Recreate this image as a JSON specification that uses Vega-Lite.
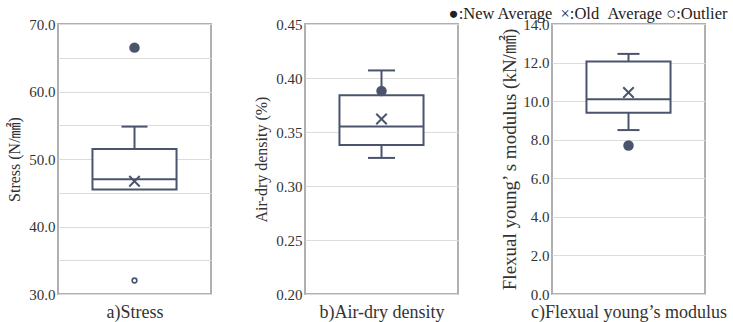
{
  "$schema": "https://vega.github.io/schema/vega-lite/v6.json",
  "padding": {"left": 5, "top": 5, "right": 5, "bottom": 0},
  "bounds": "flush",
  "spacing": 94,
  "background": "white",
  "title": {"text": "●:New Average \u00a0×:Old \u00a0Average ○:Outlier", "anchor": "end", "font": "'Liberation Serif', 'Noto Sans CJK JP', serif", "fontSize": 16.5, "fontWeight": "normal", "color": "#222222", "offset": -6, "dx": 0},
  "config": {
    "font": "'Liberation Serif', 'Noto Sans CJK JP', serif",
    "view": {"stroke": "#b0b0b0", "strokeWidth": 2},
    "axis": {"labelFont": "'Liberation Serif', 'Noto Sans CJK JP', serif", "titleFont": "'Liberation Serif', 'Noto Sans CJK JP', serif", "labelColor": "#333333", "titleColor": "#333333", "titleFontWeight": "normal", "domain": false, "ticks": false, "gridColor": "#dcdcdc", "gridWidth": 1.2, "labelOverlap": false, "tickCount": 20},
    "axisY": {"labelFontSize": 15, "titleFontSize": 16, "labelPadding": 3, "titlePadding": 6},
    "axisX": {"labels": false, "grid": false, "titleFontSize": 18, "titlePadding": 9}
  },
  "datasets": {
    "stress": [{"cat": "a", "q1": 45.5, "median": 47.0, "q3": 51.5, "lo": 45.5, "hi": 54.8, "mean": 46.7, "newavg": 66.5, "outlier": 32.0}],
    "density": [{"cat": "b", "q1": 0.338, "median": 0.355, "q3": 0.384, "lo": 0.326, "hi": 0.407, "mean": 0.362, "newavg": 0.388}],
    "modulus": [{"cat": "c", "q1": 9.4, "median": 10.1, "q3": 12.05, "lo": 8.5, "hi": 12.45, "mean": 10.45, "newavg": 7.7}]
  },
  "hconcat": [
    {
      "width": 153, "height": 270,
      "data": {"name": "stress"},
      "encoding": {"x": {"field": "cat", "type": "nominal", "scale": {"paddingInner": 0, "paddingOuter": 0.41}, "axis": {"title": "a)Stress"}}},
      "layer": [
        {"mark": {"type": "rule", "color": "#4a556d", "strokeWidth": 2}, "encoding": {"y": {"field": "lo", "type": "quantitative", "scale": {"domain": [30, 70], "nice": false, "zero": false}, "axis": {"title": "Stress (N/㎟)", "values": [30, 35, 40, 45, 50, 55, 60, 65, 70], "labelExpr": "datum.value % 10 == 0 ? format(datum.value, '.1f') : ''"}}, "y2": {"field": "hi"}}},
        {"mark": {"type": "tick", "color": "#4a556d", "thickness": 2, "size": 26, "opacity": 1}, "encoding": {"y": {"field": "hi", "type": "quantitative"}}},
        {"mark": {"type": "bar", "fill": "white", "stroke": "#4a556d", "strokeWidth": 2, "opacity": 1}, "encoding": {"y": {"field": "q1", "type": "quantitative"}, "y2": {"field": "q3"}}},
        {"mark": {"type": "tick", "color": "#4a556d", "thickness": 2, "size": 84, "opacity": 1}, "encoding": {"y": {"field": "median", "type": "quantitative"}}},
        {"mark": {"type": "point", "shape": "M-1,-1L1,1M-1,1L1,-1", "size": 110, "strokeWidth": 2, "filled": false, "color": "#4a556d", "opacity": 1}, "encoding": {"y": {"field": "mean", "type": "quantitative"}}},
        {"mark": {"type": "circle", "size": 110, "color": "#4a556d", "opacity": 1}, "encoding": {"y": {"field": "newavg", "type": "quantitative"}}},
        {"mark": {"type": "point", "size": 22, "strokeWidth": 1.6, "filled": false, "color": "#4a556d", "opacity": 1}, "encoding": {"y": {"field": "outlier", "type": "quantitative"}}}
      ]
    },
    {
      "width": 153, "height": 270,
      "data": {"name": "density"},
      "encoding": {"x": {"field": "cat", "type": "nominal", "scale": {"paddingInner": 0, "paddingOuter": 0.41}, "axis": {"title": "b)Air-dry density"}}},
      "layer": [
        {"mark": {"type": "rule", "color": "#4a556d", "strokeWidth": 2}, "encoding": {"y": {"field": "lo", "type": "quantitative", "scale": {"domain": [0.2, 0.45], "nice": false, "zero": false}, "axis": {"title": "Air-dry density (%)", "values": [0.2, 0.25, 0.3, 0.35, 0.4, 0.45], "format": ".2f"}}, "y2": {"field": "hi"}}},
        {"mark": {"type": "tick", "color": "#4a556d", "thickness": 2, "size": 27, "opacity": 1}, "encoding": {"y": {"field": "hi", "type": "quantitative"}}},
        {"mark": {"type": "tick", "color": "#4a556d", "thickness": 2, "size": 27, "opacity": 1}, "encoding": {"y": {"field": "lo", "type": "quantitative"}}},
        {"mark": {"type": "bar", "fill": "white", "stroke": "#4a556d", "strokeWidth": 2, "opacity": 1}, "encoding": {"y": {"field": "q1", "type": "quantitative"}, "y2": {"field": "q3"}}},
        {"mark": {"type": "tick", "color": "#4a556d", "thickness": 2, "size": 84, "opacity": 1}, "encoding": {"y": {"field": "median", "type": "quantitative"}}},
        {"mark": {"type": "point", "shape": "M-1,-1L1,1M-1,1L1,-1", "size": 110, "strokeWidth": 2, "filled": false, "color": "#4a556d", "opacity": 1}, "encoding": {"y": {"field": "mean", "type": "quantitative"}}},
        {"mark": {"type": "circle", "size": 110, "color": "#4a556d", "opacity": 1}, "encoding": {"y": {"field": "newavg", "type": "quantitative"}}}
      ]
    },
    {
      "width": 153, "height": 270,
      "data": {"name": "modulus"},
      "encoding": {"x": {"field": "cat", "type": "nominal", "scale": {"paddingInner": 0, "paddingOuter": 0.41}, "axis": {"title": "c)Flexual young’s modulus"}}},
      "layer": [
        {"mark": {"type": "rule", "color": "#4a556d", "strokeWidth": 2}, "encoding": {"y": {"field": "lo", "type": "quantitative", "scale": {"domain": [0, 14], "nice": false}, "axis": {"title": "Flexual young’ s modulus (kN/㎟)", "titleFontSize": 19, "titlePadding": 3, "values": [0, 2, 4, 6, 8, 10, 12, 14], "format": ".1f"}}, "y2": {"field": "hi"}}},
        {"mark": {"type": "tick", "color": "#4a556d", "thickness": 2, "size": 22, "opacity": 1}, "encoding": {"y": {"field": "hi", "type": "quantitative"}}},
        {"mark": {"type": "tick", "color": "#4a556d", "thickness": 2, "size": 22, "opacity": 1}, "encoding": {"y": {"field": "lo", "type": "quantitative"}}},
        {"mark": {"type": "bar", "fill": "white", "stroke": "#4a556d", "strokeWidth": 2, "opacity": 1}, "encoding": {"y": {"field": "q1", "type": "quantitative"}, "y2": {"field": "q3"}}},
        {"mark": {"type": "tick", "color": "#4a556d", "thickness": 2, "size": 84, "opacity": 1}, "encoding": {"y": {"field": "median", "type": "quantitative"}}},
        {"mark": {"type": "point", "shape": "M-1,-1L1,1M-1,1L1,-1", "size": 110, "strokeWidth": 2, "filled": false, "color": "#4a556d", "opacity": 1}, "encoding": {"y": {"field": "mean", "type": "quantitative"}}},
        {"mark": {"type": "circle", "size": 110, "color": "#4a556d", "opacity": 1}, "encoding": {"y": {"field": "newavg", "type": "quantitative"}}}
      ]
    }
  ]
}
